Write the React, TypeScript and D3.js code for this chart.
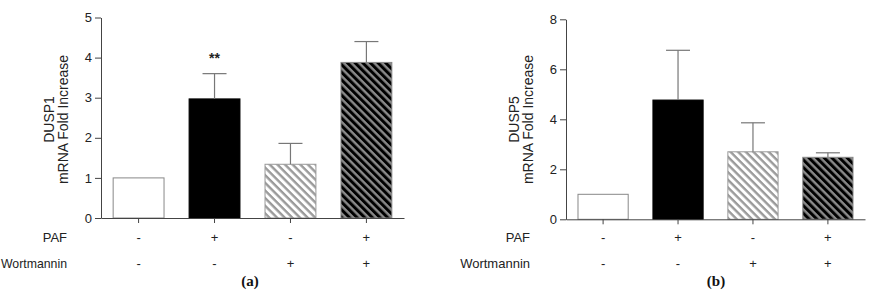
import { useEffect, useRef } from 'react';
import * as d3 from 'd3';

// treatment groups (one bar each)
const groups = ['ctrl', 'paf', 'wort', 'paf+wort'];
const pafRow = ['-', '+', '-', '+'];
const wortRow = ['-', '-', '+', '+'];

// panel (a) DUSP1
const dusp1Mean = [1.0, 2.97, 1.34, 3.88];
const dusp1Sem = [0, 0.63, 0.52, 0.52];
const dusp1Ticks = [0, 1, 2, 3, 4, 5];
const dusp1Marks = ['', '**', '', ''];

// panel (b) DUSP5
const dusp5Mean = [1.0, 4.77, 2.7, 2.48];
const dusp5Sem = [0, 1.99, 1.16, 0.18];
const dusp5Ticks = [0, 2, 4, 6, 8];
const dusp5Marks = ['', '', '', ''];

const SANS = '"Liberation Sans", Arial, sans-serif';
const SERIF = '"Liberation Serif", "Times New Roman", serif';

const App = () => {
  const svgRef = useRef<SVGSVGElement>(null);

  useEffect(() => {
    const svg = d3.select(svgRef.current);
    svg.selectAll('*').remove();

    const defs = svg.append('defs');
    const hatch = (id: string, bg: string, fg: string) => {
      const p = defs.append('pattern')
        .attr('id', id)
        .attr('patternUnits', 'userSpaceOnUse')
        .attr('width', 6)
        .attr('height', 5.4)
        .attr('patternTransform', 'rotate(45)');
      p.append('rect').attr('width', 6).attr('height', 5.4).attr('fill', bg);
      p.append('rect').attr('width', 6).attr('height', 2.4).attr('fill', fg);
    };
    hatch('hatchLight', '#fff', '#9a9a9a');
    hatch('hatchDark', '#000', '#8a8a8a');

    const fills = ['#fff', '#000', 'url(#hatchLight)', 'url(#hatchDark)'];
    const strokes = ['#888', '#000', '#999', '#888'];

    const panels = [
      {
        title: 'DUSP1', means: dusp1Mean, sems: dusp1Sem, ticks: dusp1Ticks, marks: dusp1Marks,
        xRange: [101, 404], yRange: [218, 17.5], labelRight: 67,
        titleX: [54.3, 68.3], letter: '(a)', letterX: 250,
      },
      {
        title: 'DUSP5', means: dusp5Mean, sems: dusp5Sem, ticks: dusp5Ticks, marks: dusp5Marks,
        xRange: [566, 865], yRange: [219.3, 19.3], labelRight: 530,
        titleX: [519.3, 533.3], letter: '(b)', letterX: 716,
      },
    ];

    panels.forEach(pn => {
      const x = d3.scaleBand()
        .domain(groups)
        .range(pn.xRange as [number, number])
        .paddingInner(0.33)
        .paddingOuter(0.16);
      const yMax = pn.ticks[pn.ticks.length - 1];
      const y = d3.scaleLinear().domain([0, yMax]).range(pn.yRange as [number, number]);
      const g = svg.append('g');

      // bars
      g.selectAll('rect.bar')
        .data(groups)
        .join('rect')
        .attr('class', 'bar')
        .attr('x', d => x(d)!)
        .attr('y', (d, i) => y(pn.means[i]))
        .attr('width', x.bandwidth())
        .attr('height', (d, i) => y(0) - y(pn.means[i]))
        .attr('fill', (d, i) => fills[i])
        .attr('stroke', (d, i) => strokes[i])
        .attr('stroke-width', 1);

      // error bars (upper only)
      const eb = g.selectAll('g.err')
        .data(groups.filter((d, i) => pn.sems[i] > 0))
        .join('g')
        .attr('class', 'err')
        .attr('stroke', '#777')
        .attr('stroke-width', 1.2);
      eb.append('line')
        .attr('x1', d => x(d)! + x.bandwidth() / 2)
        .attr('x2', d => x(d)! + x.bandwidth() / 2)
        .attr('y1', d => y(pn.means[groups.indexOf(d)]))
        .attr('y2', d => { const i = groups.indexOf(d); return y(pn.means[i] + pn.sems[i]); });
      eb.append('line')
        .attr('x1', d => x(d)! + x.bandwidth() / 2 - 12)
        .attr('x2', d => x(d)! + x.bandwidth() / 2 + 12)
        .attr('y1', d => { const i = groups.indexOf(d); return y(pn.means[i] + pn.sems[i]); })
        .attr('y2', d => { const i = groups.indexOf(d); return y(pn.means[i] + pn.sems[i]); });

      // significance marks
      g.selectAll('text.mark')
        .data(groups)
        .join('text')
        .attr('class', 'mark')
        .attr('x', d => x(d)! + x.bandwidth() / 2)
        .attr('y', (d, i) => y(pn.means[i] + pn.sems[i]) - 11)
        .attr('text-anchor', 'middle')
        .attr('font-family', SANS)
        .attr('font-size', 14)
        .attr('font-weight', 'bold')
        .attr('fill', '#222')
        .text((d, i) => pn.marks[i]);

      // axes
      const yAxis = g.append('g')
        .attr('transform', `translate(${pn.xRange[0]},0)`)
        .call(d3.axisLeft(y).tickValues(pn.ticks).tickSize(6).tickSizeOuter(0).tickPadding(3).tickFormat(d3.format('d')));
      yAxis.selectAll('path, line').attr('stroke', '#444');
      yAxis.selectAll('text').attr('font-family', SANS).attr('font-size', 13).attr('fill', '#222');

      const xAxis = g.append('g')
        .attr('transform', `translate(0,${y(0)})`)
        .call(d3.axisBottom(x).tickSize(5).tickSizeOuter(0).tickFormat(() => ''));
      xAxis.selectAll('path, line').attr('stroke', '#444');

      // y title
      [pn.title, 'mRNA Fold Increase'].forEach((t, k) => {
        g.append('text')
          .attr('transform', `translate(${pn.titleX[k]},119.5) rotate(-90)`)
          .attr('text-anchor', 'middle')
          .attr('font-family', SANS)
          .attr('font-size', 14)
          .attr('fill', '#222')
          .text(t);
      });

      // treatment rows
      [['PAF', pafRow, 241.5], ['Wortmannin', wortRow, 267.5]].forEach(([name, row, yy]) => {
        const lbl = g.append('text')
          .attr('x', pn.labelRight)
          .attr('y', yy as number)
          .attr('text-anchor', 'end')
          .attr('font-family', SANS)
          .attr('font-size', 13)
          .attr('fill', '#222')
          .text(name as string);
        // keep the long label inside the left edge
        if (name === 'Wortmannin' && pn.labelRight < 72) {
          lbl.attr('textLength', pn.labelRight - 1).attr('lengthAdjust', 'spacingAndGlyphs');
        }
        g.selectAll(null)
          .data(groups)
          .join('text')
          .attr('x', d => x(d)! + x.bandwidth() / 2)
          .attr('y', yy as number)
          .attr('text-anchor', 'middle')
          .attr('font-family', SANS)
          .attr('font-size', 13)
          .attr('fill', '#222')
          .text((d, i) => (row as string[])[i]);
      });

      g.append('text')
        .attr('x', pn.letterX)
        .attr('y', 286)
        .attr('text-anchor', 'middle')
        .attr('font-family', SERIF)
        .attr('font-weight', 'bold')
        .attr('font-size', 15)
        .attr('fill', '#111')
        .text(pn.letter);
    });
  }, []);

  return (
    <svg
      ref={svgRef}
      width={869}
      height={292}
      style={{ position: 'absolute', left: 0, top: 0, background: '#fff' }}
    />
  );
};

export default App;
